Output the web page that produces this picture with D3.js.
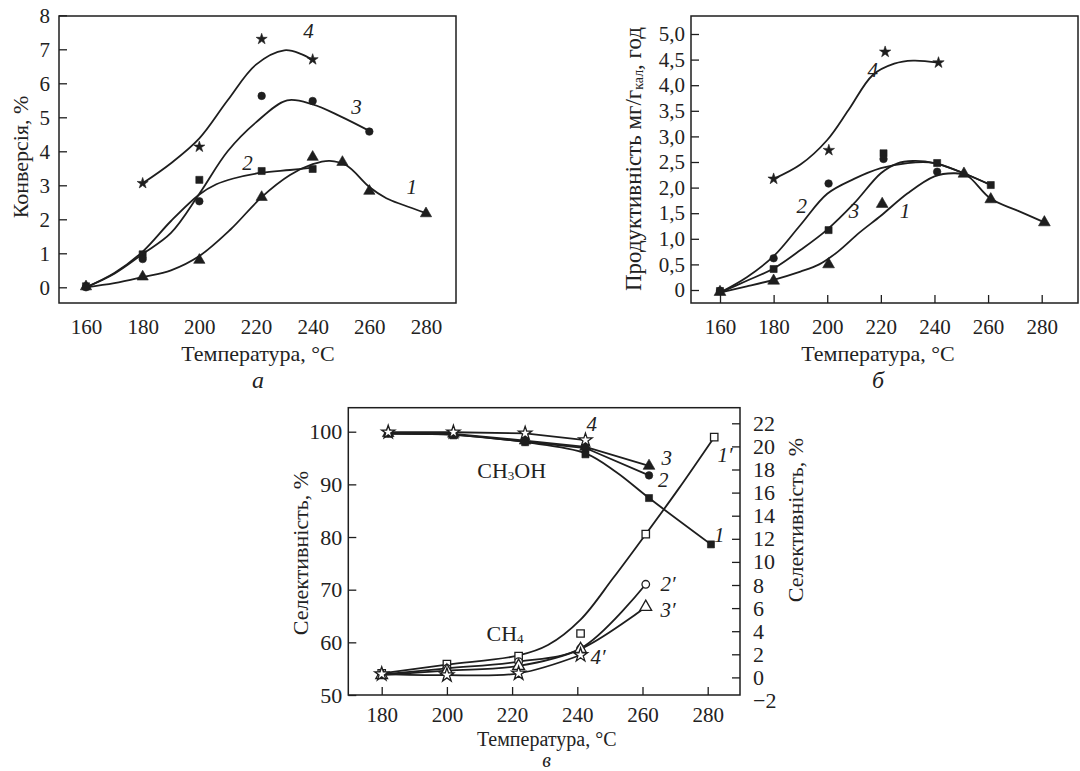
<!DOCTYPE html>
<html><head><meta charset="utf-8">
<script src="https://cdn.jsdelivr.net/npm/d3@7"></script>
<style>
body{margin:0;background:#fff}
svg{display:block}
text{font-family:"Liberation Serif","DejaVu Serif",serif;fill:#222}
</style></head><body>
<svg id="c" width="1080" height="771"></svg>
<script>
// ---------------- Panel а : Конверсія ----------------
const tempTicksAB = [160,180,200,220,240,260,280];
const convTicks = [0,1,2,3,4,5,6,7,8];

const a1T = [160,180,200,222,240,250.5,260,280];
const a1V = [0.02,0.31,0.80,2.65,3.83,3.68,2.83,2.17];
const a1FitT = [160,170,180,190,200,211,222,232,240,246,252,260,266,272,280];
const a1FitV = [0.0,0.12,0.30,0.50,0.92,1.70,2.65,3.30,3.62,3.72,3.58,2.95,2.62,2.42,2.18];

const a2T = [160,180,200,222,240];
const a2V = [0.03,0.97,3.16,3.42,3.48];
const a2FitT = [160,170,180,190,200,206,212,222,232,240];
const a2FitV = [0.0,0.42,1.05,1.95,2.73,3.03,3.20,3.37,3.45,3.52];

const a3T = [160,180,200,222,240,260];
const a3V = [0.0,0.83,2.53,5.63,5.48,4.58];
const a3FitT = [160,170,180,190,200,210,220,231,240,250,260];
const a3FitV = [0.0,0.40,0.98,1.60,2.75,4.00,4.85,5.50,5.38,5.02,4.60];

const a4T = [180,200,222,240];
const a4V = [3.06,4.13,7.30,6.70];
const a4FitT = [180,190,200,210,220,230,236,240];
const a4FitV = [3.06,3.65,4.38,5.50,6.55,6.97,6.86,6.68];

// ---------------- Panel б : Продуктивність ----------------
const prodTicks = [0,0.5,1,1.5,2,2.5,3,3.5,4,4.5,5];

const b1T = [160,180,200.5,220.5,251,261,281];
const b1V = [-0.04,0.18,0.50,1.68,2.27,1.77,1.32];
const b1FitT = [160,170,180,190,197,204,212,220,230,240,247,252,261,271,281];
const b1FitV = [-0.05,0.07,0.20,0.36,0.50,0.75,1.12,1.45,1.89,2.22,2.28,2.24,1.78,1.55,1.32];

const b2T = [160,180,200.5,221,241];
const b2V = [-0.02,0.62,2.08,2.56,2.31];
const b2FitT = [160,170,180,190,200,210,220,230,240,250,261];
const b2FitV = [-0.05,0.25,0.66,1.27,1.88,2.17,2.38,2.48,2.48,2.30,2.05];

const b3T = [160,180,200.5,221,241,261];
const b3V = [-0.02,0.41,1.17,2.67,2.48,2.05];
const b3FitT = [160,170,180,190,200,210,220,226,232,240,250,261];
const b3FitV = [-0.05,0.18,0.42,0.78,1.18,1.69,2.28,2.47,2.52,2.48,2.30,2.05];

const b4T = [180,200.6,221.6,241.5];
const b4V = [2.17,2.73,4.65,4.44];
const b4FitT = [180,190,200,208,217,225,232,241.5];
const b4FitV = [2.17,2.45,2.93,3.52,4.20,4.42,4.48,4.44];

// ---------------- Panel в : Селективність ----------------
const tempTicksC = [180,200,220,240,260,280];
const selTicks = [50,60,70,80,90,100];
const selRTicks = [-2,0,2,4,6,8,10,12,14,16,18,20,22];

// CH3OH (left axis)
const mT = [182,202,224,242.5,262,281];
const m1V = [99.6,99.3,98.0,95.7,87.4,78.6];
const m1FitT = [182,202,224,242.5,252,262,281];
const m1FitV = [99.6,99.4,98.0,95.9,92.3,87.4,78.6];
const m2V = [99.7,99.5,98.1,96.9,91.7];
const m3V = [99.7,99.6,98.3,97.1,93.5];
const m4V = [99.9,99.9,99.7,98.4];

// CH4 (right axis)
const cT = [180,200,222,241,261,282];
const c1V = [0.35,1.16,1.85,3.8,12.4,20.8];
const c1FitT = [180,200,222,231,241,251,261,271,282];
const c1FitV = [0.35,1.10,1.90,2.80,5.00,8.60,12.40,16.30,20.80];
const c2V = [0.25,0.78,1.36,2.50,8.06];
const c3V = [0.20,0.58,0.99,2.45,6.10];
const c4V = [0.29,0.20,0.35,1.94];

// ======================================================
const svg = d3.select("#c");
const INK = "#1e1e1e";
const FS = 21;

const xA = d3.scaleLinear([160,280],[86,426]);
const yA = d3.scaleLinear([0,8],[287.3,15.3]);
const xB = d3.scaleLinear([160,280],[720,1041.7]);
const yB = d3.scaleLinear([0,5],[290,34]);
const xC = d3.scaleLinear([180,280],[381.7,707.7]);
const yCL = d3.scaleLinear([50,100],[695,431.7]);
const yCR = d3.scaleLinear([0,22],[677.4,423.3]);

function frame(x0,y0,x1,y1){
  svg.append("rect").attr("x",x0).attr("y",y0).attr("width",x1-x0).attr("height",y1-y0)
    .attr("fill","none").attr("stroke",INK).attr("stroke-width",1.5);
}
function styleAxis(g, fs){
  g.attr("font-family",null).attr("font-size",null).attr("color",INK);
  g.select(".domain").remove();
  g.selectAll(".tick line").attr("stroke-width",1.3);
  g.selectAll(".tick text").attr("font-size",fs||FS);
}
function curve(xs, ys, sx, sy, kind){
  const pts = xs.map((t,i)=>[t,ys[i]]);
  svg.append("path").datum(pts)
    .attr("d", d3.line().x(d=>sx(d[0])).y(d=>sy(d[1])).curve(kind || d3.curveCatmullRom.alpha(0.5)))
    .attr("fill","none").attr("stroke",INK).attr("stroke-width",1.8);
}
const SYM = {tri:d3.symbolTriangle, sq:d3.symbolSquare, cir:d3.symbolCircle, star:d3.symbolStar};
function marks(xs, ys, sx, sy, type, filled, size){
  svg.append("g").selectAll("path").data(xs.map((t,i)=>[t,ys[i]])).join("path")
    .attr("transform",d=>`translate(${sx(d[0])},${sy(d[1])})`)
    .attr("d", d3.symbol(SYM[type], size))
    .attr("fill", filled ? INK : "#fff")
    .attr("stroke", INK).attr("stroke-width", filled ? 0.6 : 1.3);
}
function label(x,y,txt,opts={}){
  const t = svg.append("text").attr("x",x).attr("y",y)
    .attr("text-anchor",opts.anchor||"middle").attr("dominant-baseline","central")
    .attr("font-size",opts.size||FS);
  if(txt) t.text(txt);
  if(opts.italic) t.attr("font-style","italic");
  if(opts.rotate) t.attr("transform",`rotate(-90,${x},${y})`);
  return t;
}

// ---------------- Panel а ----------------
frame(59,16,456,303);
svg.append("g").attr("transform","translate(59,0)")
  .call(d3.axisLeft(yA).tickValues(convTicks).tickSize(-8).tickPadding(9).tickFormat(d3.format("d")))
  .call(styleAxis);
svg.append("g").attr("transform","translate(0,303)")
  .call(d3.axisBottom(xA).tickValues(tempTicksAB).tickSize(0).tickPadding(16).tickFormat(d3.format("d")))
  .call(styleAxis);

curve(a1FitT,a1FitV,xA,yA);
curve(a2FitT,a2FitV,xA,yA);
curve(a3FitT,a3FitV,xA,yA);
curve(a4FitT,a4FitV,xA,yA);
marks(a1T,a1V,xA,yA,"tri",true,55);
marks(a2T,a2V,xA,yA,"sq",true,50);
marks(a3T,a3V,xA,yA,"cir",true,45);
marks(a4T,a4V,xA,yA,"star",true,38);

label(xA(238.5),yA(7.55),"4",{italic:true});
label(xA(255.5),yA(5.3),"3",{italic:true});
label(xA(217),yA(3.65),"2",{italic:true});
label(xA(275),yA(2.95),"1",{italic:true});

label(20,157,"Конверсія, %",{rotate:true,size:22});
label(258,353,"Температура, °C",{size:22});
label(258,380,"а",{italic:true,size:24});

// ---------------- Panel б ----------------
frame(691,16,1078,303);
svg.append("g").attr("transform","translate(691,0)")
  .call(d3.axisLeft(yB).tickValues(prodTicks).tickSize(-8).tickPadding(6)
    .tickFormat(d=> d===0 ? "0" : d3.format(".1f")(d).replace(".",",")))
  .call(styleAxis);
svg.append("g").attr("transform","translate(0,303)")
  .call(d3.axisBottom(xB).tickValues(tempTicksAB).tickSize(-8).tickPadding(16).tickFormat(d3.format("d")))
  .call(styleAxis);

curve(b1FitT,b1FitV,xB,yB);
curve(b2FitT,b2FitV,xB,yB);
curve(b3FitT,b3FitV,xB,yB);
curve(b4FitT,b4FitV,xB,yB);
marks(b1T,b1V,xB,yB,"tri",true,60);
marks(b3T,b3V,xB,yB,"sq",true,50);
marks(b2T,b2V,xB,yB,"cir",true,45);
marks(b4T,b4V,xB,yB,"star",true,40);

label(xB(217),yB(4.3),"4",{italic:true});
label(xB(190.5),yB(1.65),"2",{italic:true});
label(xB(210),yB(1.55),"3",{italic:true});
label(xB(229),yB(1.55),"1",{italic:true});

{
  const t = label(633,159,"",{rotate:true,size:23});
  t.append("tspan").text("Продуктивність мг/г");
  t.append("tspan").attr("font-size",14).attr("dy",5).text("кал");
  t.append("tspan").attr("dy",-5).text(", год");
}
label(878,353,"Температура, °C",{size:22});
label(878,380,"б",{italic:true,size:24});

// ---------------- Panel в ----------------
frame(348.3,407.7,740,695);
svg.append("g").attr("transform","translate(348.3,0)")
  .call(d3.axisLeft(yCL).tickValues(selTicks).tickSize(-8).tickPadding(6).tickFormat(d3.format("d")))
  .call(g=>styleAxis(g,22));
svg.append("g").attr("transform","translate(740,0)")
  .call(d3.axisRight(yCR).tickValues(selRTicks).tickSize(-8).tickPadding(13)
    .tickFormat(d=> d<0 ? "\u2212"+Math.abs(d) : String(d)))
  .call(g=>styleAxis(g,22))
  .call(g=>g.selectAll(".tick").filter(d=>d<0).select("line").remove());
svg.append("g").attr("transform","translate(0,695)")
  .call(d3.axisBottom(xC).tickValues(tempTicksC).tickSize(-8).tickPadding(12).tickFormat(d3.format("d")))
  .call(g=>styleAxis(g,21));

// CH3OH
curve(m1FitT,m1FitV,xC,yCL);
curve(mT.slice(0,5),m2V,xC,yCL,d3.curveLinear);
curve(mT.slice(0,5),m3V,xC,yCL,d3.curveLinear);
curve(mT.slice(0,4),m4V,xC,yCL,d3.curveLinear);
marks(mT,m1V,xC,yCL,"sq",true,50);
marks(mT.slice(0,5),m2V,xC,yCL,"cir",true,45);
marks(mT.slice(0,5),m3V,xC,yCL,"tri",true,60);
marks(mT.slice(0,4),m4V,xC,yCL,"star",false,55);

// CH4
curve(c1FitT,c1FitV,xC,yCR);
curve(cT.slice(0,5),c2V,xC,yCR);
curve(cT.slice(0,5),c3V,xC,yCR);
curve(cT.slice(0,4),c4V,xC,yCR);
marks(cT,c1V,xC,yCR,"sq",false,55);
marks(cT.slice(0,5),c2V,xC,yCR,"cir",false,45);
marks(cT.slice(0,5),c3V,xC,yCR,"tri",false,60);
marks(cT.slice(0,4),c4V,xC,yCR,"star",false,60);

label(591.7,424,"4",{italic:true});
label(666.7,458,"3",{italic:true});
label(663.3,480,"2",{italic:true});
label(719.3,535,"1",{italic:true});
label(725,455,"1\u2032",{italic:true});
label(668,584,"2\u2032",{italic:true});
label(668,610,"3\u2032",{italic:true});
label(598,657,"4\u2032",{italic:true});
{
  const t = label(511.7,470,"",{size:22});
  t.append("tspan").text("CH");
  t.append("tspan").attr("font-size",13).attr("dy",5).text("3");
  t.append("tspan").attr("dy",-5).text("OH");
  const u = label(505,633,"",{size:22});
  u.append("tspan").text("CH");
  u.append("tspan").attr("font-size",13).attr("dy",5).text("4");
}

label(300,553,"Селективність, %",{rotate:true,size:22});
label(795,520,"Селективність, %",{rotate:true,size:22});
label(546.7,739,"Температура, °C",{size:20});
label(546.7,760,"в",{italic:true,size:20});
</script></body></html>
